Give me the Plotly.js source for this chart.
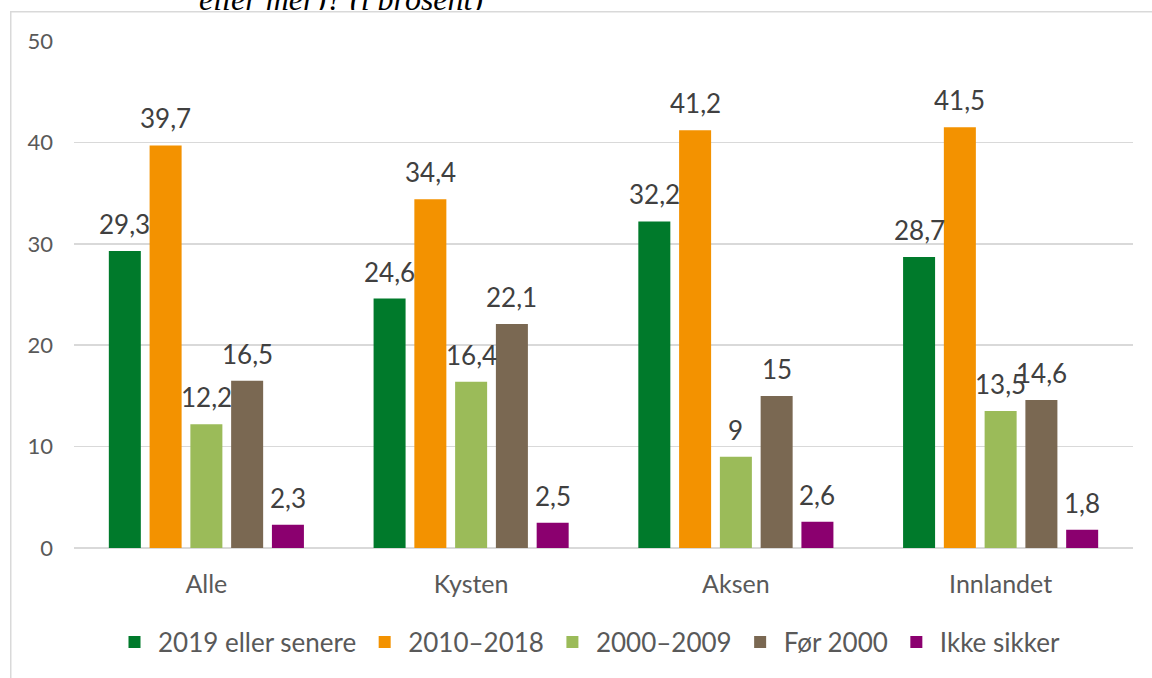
<!DOCTYPE html>
<html>
<head>
<meta charset="utf-8">
<script src="https://cdn.plot.ly/plotly-3.0.1.min.js"></script>
<style>html,body{margin:0;padding:0;background:#fff;}#chart{width:1152px;height:678px;}</style>
</head>
<body>
<div id="chart"></div>
<script>
const categories = ['Alle', 'Kysten', 'Aksen', 'Innlandet'];
const seriesNames = ['2019 eller senere', '2010–2018', '2000–2009', 'Før 2000', 'Ikke sikker'];
const v2019 = [29.3, 24.6, 32.2, 28.7];
const v2010 = [39.7, 34.4, 41.2, 41.5];
const v2000 = [12.2, 16.4, 9, 13.5];
const vFor2000 = [16.5, 22.1, 15, 14.6];
const vIkke = [2.3, 2.5, 2.6, 1.8];
const yTicks = [0, 10, 20, 30, 40, 50];
const titleText = 'eller mer)? (i prosent)';

const seriesValues = [v2019, v2010, v2000, vFor2000, vIkke];
const colors = ['#007A2B', '#F39200', '#9BBB59', '#7A6852', '#8B006F'];

const W = 1152, H = 678;
const M = {l: 74, r: 19, t: 41, b: 130};
const PW = W - M.l - M.r, PH = H - M.t - M.b;
const px = x => (x - M.l) / PW;
const py = y => (H - M.b - y) / PH;

const bargap = 0.23, bargroupgap = 0.215;
const nS = seriesNames.length;
const slot = (1 - bargap) / nS;

const fmt = v => String(v).replace('.', ',');

const traces = seriesNames.map((name, i) => ({
  type: 'bar',
  name: name,
  x: categories,
  y: seriesValues[i],
  marker: {color: colors[i], line: {width: 0}},
  hoverinfo: 'skip'
}));

const annotations = [];
seriesValues.forEach((vals, i) => {
  vals.forEach((v, j) => {
    annotations.push({
      xref: 'x', yref: 'y',
      x: j + (i - (nS - 1) / 2) * slot,
      y: v,
      text: fmt(v),
      showarrow: false,
      xanchor: 'center', yanchor: 'bottom',
      yshift: 9,
      font: {family: 'Lato', size: 26, color: '#404040'}
    });
  });
});

// cropped title text
annotations.push({
  xref: 'paper', yref: 'paper',
  x: px(197), y: py(19),
  xanchor: 'left', yanchor: 'bottom',
  text: '<i>' + titleText + '</i>', showarrow: false,
  font: {family: '"Liberation Serif", "Times New Roman", serif', size: 32, color: '#000000'}
});
// white cover (the chart frame overlaps the title)
annotations.push({
  xref: 'paper', yref: 'paper',
  x: px(150), y: py(9.5),
  xanchor: 'left', yanchor: 'top',
  text: '&#160;', showarrow: false,
  width: 420, height: 22, borderpad: 0, borderwidth: 0,
  bgcolor: '#ffffff'
});
// chart frame
annotations.push({
  xref: 'paper', yref: 'paper',
  x: px(10), y: py(11),
  xanchor: 'left', yanchor: 'top',
  text: '&#160;', showarrow: false,
  width: 1300, height: 800, borderpad: 0, borderwidth: 1.5,
  bordercolor: '#d9d9d9', bgcolor: 'rgba(0,0,0,0)'
});

const layout = {
  width: W, height: H,
  margin: M,
  paper_bgcolor: '#ffffff',
  plot_bgcolor: '#ffffff',
  barmode: 'group',
  bargap: bargap,
  bargroupgap: bargroupgap,
  showlegend: true,
  legend: {
    orientation: 'h',
    x: px(111), xanchor: 'left',
    y: py(642), yanchor: 'middle',
    itemwidth: 37,
    font: {family: 'Lato', size: 26, color: '#595959'},
    itemclick: false, itemdoubleclick: false
  },
  xaxis: {
    type: 'category',
    tickfont: {family: 'Lato', size: 25, color: '#595959'},
    showgrid: false,
    showline: false,
    ticks: '',
    ticklabelstandoff: 19,
    fixedrange: true
  },
  yaxis: {
    range: [0, 50],
    tickvals: yTicks,
    ticktext: yTicks.map(String),
    showgrid: true,
    gridcolor: '#d9d9d9',
    gridwidth: 1.5,
    zeroline: true,
    zerolinecolor: '#d9d9d9',
    zerolinewidth: 1.5,
    showline: false,
    ticks: '',
    ticklabelstandoff: 20,
    tickfont: {family: 'Lato', size: 22, color: '#595959'},
    fixedrange: true
  },
  annotations: annotations,
  font: {family: 'Lato'}
};

Plotly.newPlot('chart', traces, layout, {displayModeBar: false, staticPlot: true});
</script>
</body>
</html>
